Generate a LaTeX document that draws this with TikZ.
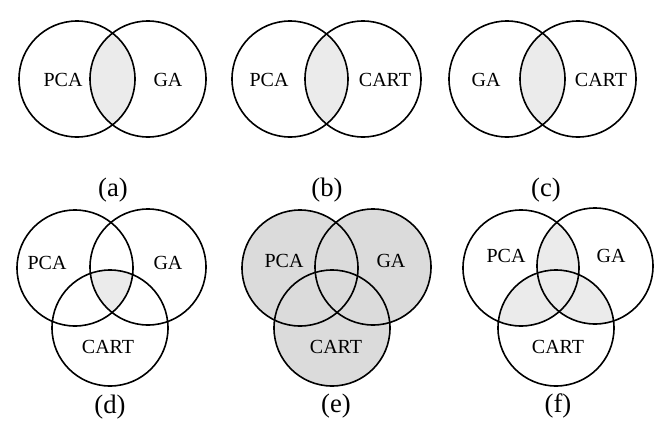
\documentclass[tikz,border=0pt]{standalone}
\usepackage{fontspec}
\setmainfont{Liberation Serif}
\tikzset{
    setring/.style={draw, line width=1.2pt},
    lens/.style={fill=black!8},
    allfill/.style={fill=black!14},
    setname/.style={font=\fontsize{15}{18}\selectfont, inner sep=0pt},
    caption/.style={font=\fontsize{20}{24}\selectfont, inner sep=0pt}
}
\newcommand{\rad}{58}

\begin{document}
\begin{tikzpicture}[x=0.75pt, y=0.75pt]
        \useasboundingbox (0,0) rectangle (672,430);

        % Centres of the circles
        \coordinate (a1) at (77,351);  \coordinate (a2) at (148,351);
        \coordinate (b1) at (290,351); \coordinate (b2) at (363,351);
        \coordinate (c1) at (507,351); \coordinate (c2) at (578,351);
        \coordinate (d1) at (75,162);  \coordinate (d2) at (148,163);  \coordinate (d3) at (110,102);
        \coordinate (e1) at (300,162); \coordinate (e2) at (373,163);  \coordinate (e3) at (332,102);
        \coordinate (f1) at (521,162); \coordinate (f2) at (595,164);  \coordinate (f3) at (556,102);

        % Shaded regions
        \begin{scope}
            \clip (a1) circle [radius=\rad];
            \fill [lens] (a2) circle [radius=\rad];
        \end{scope}
        \begin{scope}
            \clip (b1) circle [radius=\rad];
            \fill [lens] (b2) circle [radius=\rad];
        \end{scope}
        \begin{scope}
            \clip (c1) circle [radius=\rad];
            \fill [lens] (c2) circle [radius=\rad];
        \end{scope}
        \begin{scope}
            \clip (d1) circle [radius=\rad];
            \clip (d2) circle [radius=\rad];
            \fill [lens] (d3) circle [radius=\rad];
        \end{scope}
        \fill [allfill] (e1) circle [radius=\rad] (e2) circle [radius=\rad] (e3) circle [radius=\rad];
        \begin{scope}
            \clip (f1) circle [radius=\rad];
            \fill [lens] (f2) circle [radius=\rad];
        \end{scope}
        \begin{scope}
            \clip (f1) circle [radius=\rad];
            \fill [lens] (f3) circle [radius=\rad];
        \end{scope}
        \begin{scope}
            \clip (f2) circle [radius=\rad];
            \fill [lens] (f3) circle [radius=\rad];
        \end{scope}

        % Circle outlines
        \foreach \c in {a1,a2,b1,b2,c1,c2,d1,d2,d3,e1,e2,e3,f1,f2,f3}
            \draw [setring] (\c) circle [radius=\rad];

        % Set names
        \node [setname] (apca) at (63,350) {PCA};
        \node [setname] (aga) at (168,350) {GA};
        \node [setname] (bpca) at (269,350) {PCA};
        \node [setname] (bcart) at (385,350) {CART};
        \node [setname] (cga) at (486,350) {GA};
        \node [setname] (ccart) at (601,350) {CART};
        \node [setname] (dpca) at (47,167) {PCA};
        \node [setname] (dga) at (168,167) {GA};
        \node [setname] (dcart) at (108,83) {CART};
        \node [setname] (epca) at (284,169) {PCA};
        \node [setname] (ega) at (391,169) {GA};
        \node [setname] (ecart) at (336,83) {CART};
        \node [setname] (fpca) at (506,174) {PCA};
        \node [setname] (fga) at (611,174) {GA};
        \node [setname] (fcart) at (558,83) {CART};

        % Captions
        \node [caption] (capa) at (113,240) {(a)};
        \node [caption] (capb) at (327,240) {(b)};
        \node [caption] (capc) at (546,240) {(c)};
        \node [caption] (capd) at (110,23) {(d)};
        \node [caption] (cape) at (336,24) {(e)};
        \node [caption] (capf) at (558,24) {(f)};
    \end{tikzpicture}
\end{document}
